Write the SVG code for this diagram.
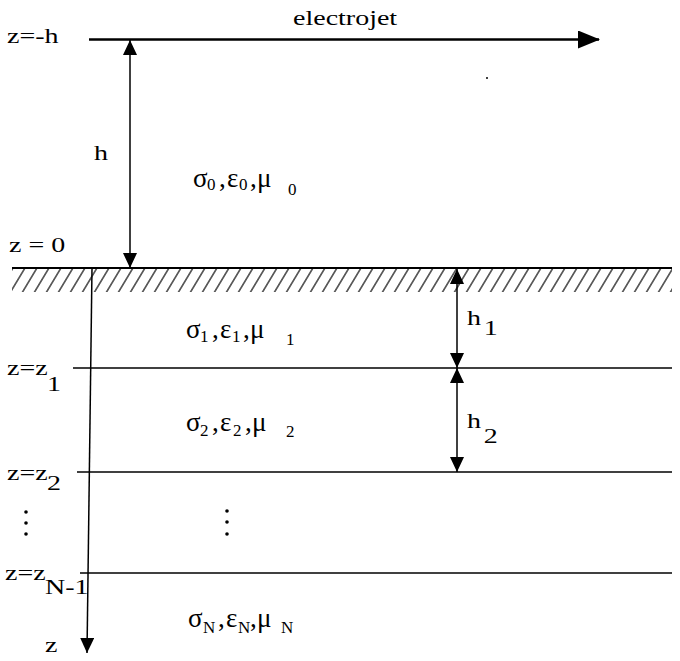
<svg xmlns="http://www.w3.org/2000/svg" width="680" height="661" viewBox="0 0 680 661">
<style>
.t{font-family:'Liberation Serif','Times New Roman',serif;font-size:20px;fill:#000}
.g{font-family:'Liberation Serif','Times New Roman',serif;font-size:27px;fill:#000}
.s{font-size:17px}
.ln{stroke:#000;stroke-width:1.5;fill:none}
</style>
<defs>
<marker id="ah" markerUnits="userSpaceOnUse" markerWidth="15" markerHeight="14" refX="15" refY="7" orient="auto-start-reverse"><path d="M0,0 L15,7 L0,14 z" fill="#000"/></marker>
<marker id="big" markerUnits="userSpaceOnUse" markerWidth="22" markerHeight="18" refX="21" refY="9" orient="auto"><path d="M0,0 L22,9 L0,18 z" fill="#000"/></marker>
<pattern id="hatch" patternUnits="userSpaceOnUse" width="12" height="30" patternTransform="skewX(-31)"><line x1="6" y1="-2" x2="6" y2="32" stroke="#000" stroke-width="1.3"/></pattern>
</defs>
<rect width="680" height="661" fill="#fff"/>
<g id="ground">
<rect x="12" y="269" width="660" height="23" fill="url(#hatch)"/>
<line x1="12" y1="268" x2="672" y2="268" stroke="#000" stroke-width="2"/>
</g>
<g id="layers">
<line class="ln" x1="73" y1="368" x2="672" y2="368"/>
<line class="ln" x1="77" y1="472" x2="672" y2="472"/>
<line class="ln" x1="80" y1="573" x2="672" y2="573"/>
</g>
<g id="connectors">
<line id="electrojet-arrow" x1="89" y1="39.5" x2="599" y2="39.5" stroke="#000" stroke-width="2.5" marker-end="url(#big)"/>
<line x1="130" y1="40" x2="130" y2="268" class="ln" marker-start="url(#ah)" marker-end="url(#ah)"/>
<line x1="457" y1="269" x2="457" y2="368" class="ln" marker-start="url(#ah)" marker-end="url(#ah)"/>
<line x1="457" y1="368" x2="457" y2="472" class="ln" marker-start="url(#ah)" marker-end="url(#ah)"/>
<line x1="92" y1="268" x2="87" y2="653" class="ln" marker-end="url(#ah)"/>
</g>
<g id="labels-left">
<text class="t" transform="translate(293,25) scale(1.4,1)">electrojet</text>
<text class="t" transform="translate(7,43) scale(1.4,1)">z=-h</text>
<text class="t" transform="translate(94,160) scale(1.4,1)">h</text>
<text class="t" transform="translate(9,252) scale(1.4,1)">z = 0</text>
<text class="t" transform="translate(7,375) scale(1.4,1)">z=z<tspan x="28.6" y="16">1</tspan></text>
<text class="t" transform="translate(7,480) scale(1.4,1)">z=z<tspan x="28.6" y="10">2</tspan></text>
<text class="t" transform="translate(5,580) scale(1.4,1)">z=z<tspan x="28.6" y="14">N-1</tspan></text>
<text class="t" transform="translate(45,652) scale(1.4,1)">z</text>
<text class="t" transform="translate(467,325) scale(1.4,1)">h<tspan x="12" y="10">1</tspan></text>
<text class="t" transform="translate(467,428) scale(1.4,1)">h<tspan x="12" y="15">2</tspan></text>
</g>
<g id="layer0">
<text class="g"><tspan x="193" y="187">σ</tspan><tspan class="s" x="207" y="190">0</tspan><tspan x="219" y="187">,</tspan><tspan x="227" y="187">ε</tspan><tspan class="s" x="239" y="190">0</tspan><tspan x="250" y="187">,</tspan><tspan x="257" y="187">μ</tspan><tspan class="s" x="288" y="195">0</tspan></text>
</g>
<g id="layer1">
<text class="g"><tspan x="186" y="338">σ</tspan><tspan class="s" x="200" y="342">1</tspan><tspan x="212" y="338">,</tspan><tspan x="220" y="338">ε</tspan><tspan class="s" x="232" y="342">1</tspan><tspan x="243" y="338">,</tspan><tspan x="250" y="338">μ</tspan><tspan class="s" x="286" y="345">1</tspan></text>
</g>
<g id="layer2">
<text class="g"><tspan x="186" y="431">σ</tspan><tspan class="s" x="200" y="436">2</tspan><tspan x="212" y="431">,</tspan><tspan x="220" y="431">ε</tspan><tspan class="s" x="233" y="436">2</tspan><tspan x="245" y="431">,</tspan><tspan x="252" y="431">μ</tspan><tspan class="s" x="286" y="437">2</tspan></text>
</g>
<g id="layerN">
<text class="g"><tspan x="188" y="627">σ</tspan><tspan class="s" x="203" y="633">N</tspan><tspan x="218" y="627">,</tspan><tspan x="226" y="627">ε</tspan><tspan class="s" x="238" y="633">N</tspan><tspan x="250" y="627">,</tspan><tspan x="257" y="627">μ</tspan><tspan class="s" x="281" y="633">N</tspan></text>
</g>
<g id="dots">
<circle cx="26" cy="512" r="1.8"/><circle cx="26" cy="523" r="1.8"/><circle cx="26" cy="534" r="1.8"/>
<circle cx="227" cy="511" r="1.8"/><circle cx="227" cy="522" r="1.8"/><circle cx="227" cy="534" r="1.8"/>
<circle cx="487" cy="78" r="1"/>
</g>
</svg>
